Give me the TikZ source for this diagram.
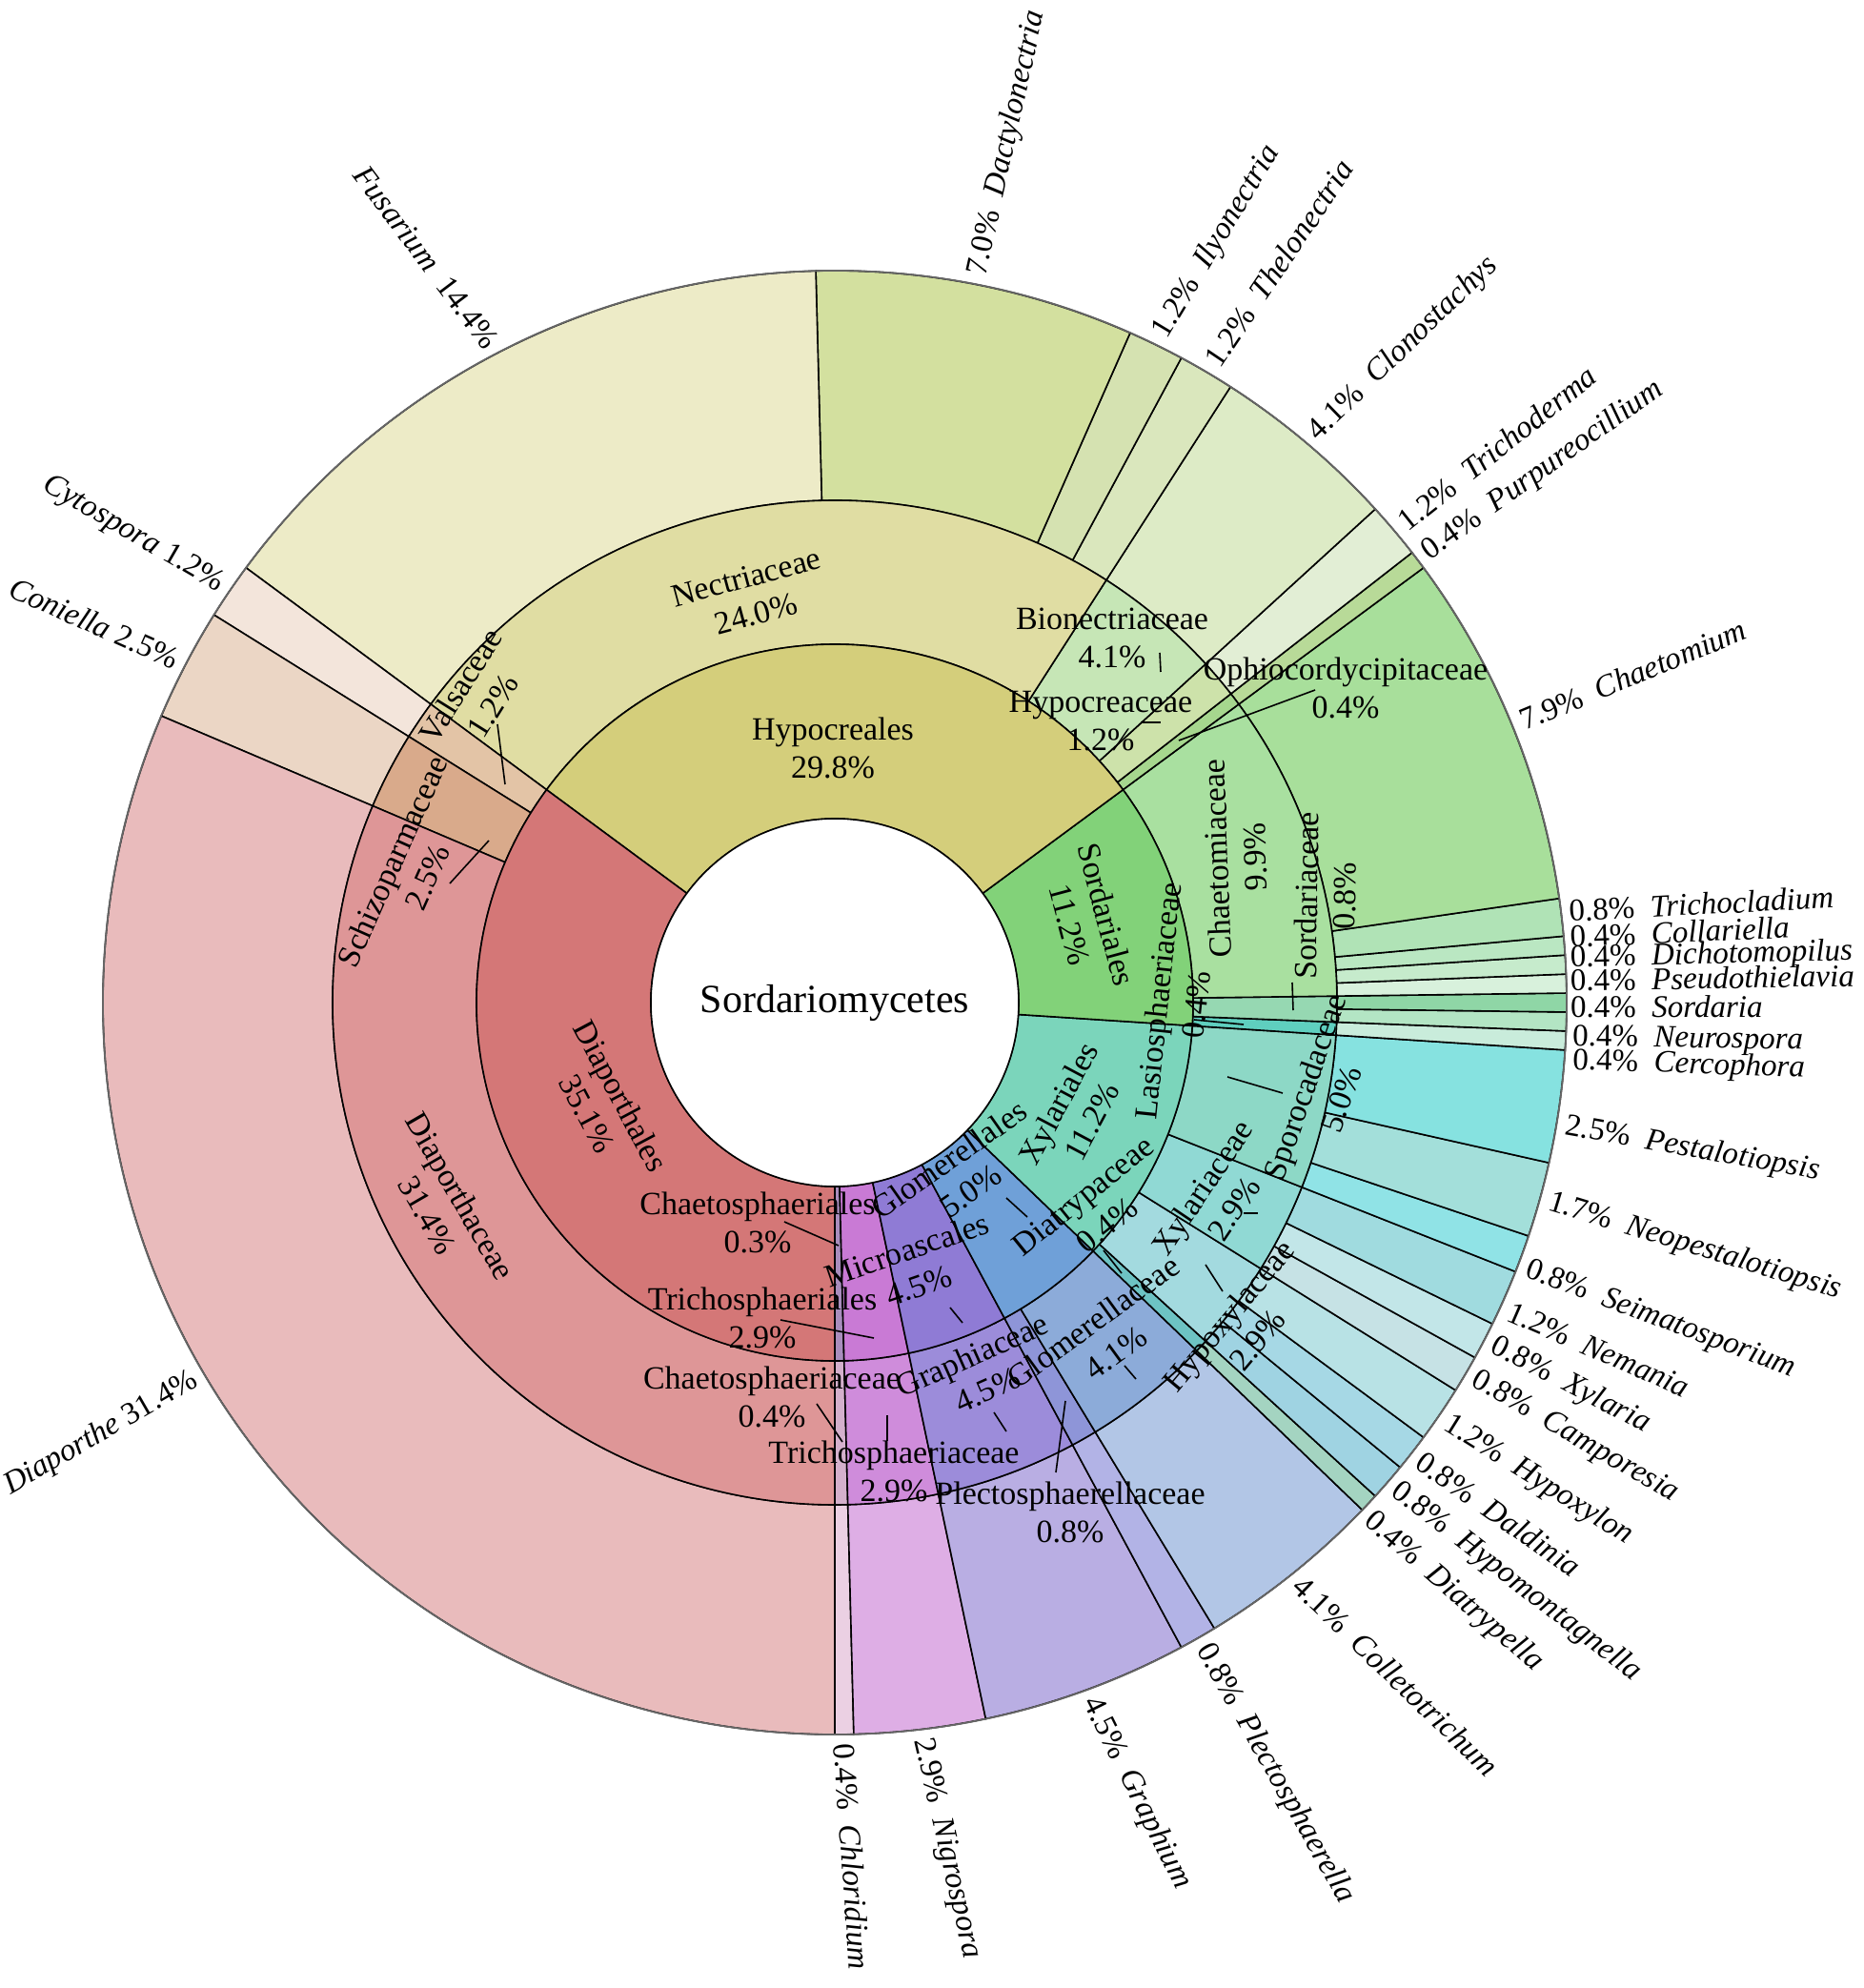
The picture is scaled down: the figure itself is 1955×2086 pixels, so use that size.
\documentclass[tikz,border=0pt]{standalone}
\usepackage{fontspec}
\setmainfont{Liberation Serif}
\newcommand{\sbseg}[5]{%
  \pgfmathsetmacro{\sbA}{-90+(#3)*1.4876033}%
  \pgfmathsetmacro{\sbB}{-90+(#4)*1.4876033}%
  \definecolor{sbtmp}{HTML}{#5}%
  \filldraw[segline, fill=sbtmp] (\sbA:#1pt) arc[start angle=\sbA, end angle=\sbB, radius=#1pt] -- (\sbB:#2pt) arc[start angle=\sbB, end angle=\sbA, radius=#2pt] -- cycle;}
% right-side genus label: id, position (count), rotation, percent, name
\newcommand{\glabR}[5]{%
  \pgfmathsetmacro{\sbM}{-90+(#2)*1.4876033}%
  \node[glab, anchor=west, rotate=#3] (#1) at (\sbM:778pt) {#4\hspace{0.5em}\textit{#5}};}
% left-side genus label: id, position (count), rotation, percent, name, gap
\newcommand{\glabL}[6]{%
  \pgfmathsetmacro{\sbM}{-90+(#2)*1.4876033}%
  \node[glab, anchor=east, rotate=#3] (#1) at (\sbM:778pt) {\textit{#5}\hspace{#6}#4};}
\newcommand{\glabP}[6]{%
  \node[glab, anchor=base west, rotate=#4] (#1) at (#2,#3) {#5\hspace{0.5em}\textit{#6}};}
\newcommand{\sblead}[5]{%
  \coordinate (#1a) at (#2,#3); \coordinate (#1b) at (#4,#5);
  \draw[leader] (#1a) -- (#1b);}
\begin{document}
\begin{tikzpicture}[x=1pt,y=1pt,
  segline/.style={draw=black, line width=1.6pt},
  glab/.style={font=\fontsize{33}{39}\selectfont, inner sep=0pt},
  ilab/.style={font=\fontsize{34}{40}\selectfont, inner sep=0pt, align=center},
  leader/.style={draw=black, line width=1.6pt}]
\fill[white] (-876,-1034) rectangle (1079,1052);
\useasboundingbox (-876,-1034) rectangle (1079,1052);
% ---------- ring 3 : genera ----------
\sbseg{527}{768}{0}{1}{EBD0E3}
\sbseg{527}{768}{1}{8}{DEAEE5}
\sbseg{527}{768}{8}{19}{B9AEE3}
\sbseg{527}{768}{19}{21}{B2B3E6}
\sbseg{527}{768}{21}{31}{B2C6E6}
\sbseg{527}{768}{31}{32}{A4D4C1}
\sbseg{527}{768}{32}{34}{9FD3E2}
\sbseg{527}{768}{34}{36}{A6D8E5}
\sbseg{527}{768}{36}{39}{B8E2E5}
\sbseg{527}{768}{39}{41}{C6E2E5}
\sbseg{527}{768}{41}{43}{C2E6E8}
\sbseg{527}{768}{43}{46}{A0DBDF}
\sbseg{527}{768}{46}{48}{90E3E6}
\sbseg{527}{768}{48}{52}{A3DFDA}
\sbseg{527}{768}{52}{58}{86E2E0}
\sbseg{527}{768}{58}{59}{C9ECDB}
\sbseg{527}{768}{59}{60}{B3E5C4}
\sbseg{527}{768}{60}{61}{8FD6A6}
\sbseg{527}{768}{61}{62}{D8F1DC}
\sbseg{527}{768}{62}{63}{C6EBCC}
\sbseg{527}{768}{63}{64}{BAE7C2}
\sbseg{527}{768}{64}{66}{B0E3B6}
\sbseg{527}{768}{66}{85}{A8DF9B}
\sbseg{527}{768}{85}{86}{B8DA98}
\sbseg{527}{768}{86}{89}{E2EED5}
\sbseg{527}{768}{89}{99}{DDEBC6}
\sbseg{527}{768}{99}{102}{DAE7BD}
\sbseg{527}{768}{102}{105}{D5E2B1}
\sbseg{527}{768}{105}{122}{D3E09F}
\sbseg{527}{768}{122}{157}{EDEBC7}
\sbseg{527}{768}{157}{160}{F3E5DB}
\sbseg{527}{768}{160}{166}{EBD6C5}
\sbseg{527}{768}{166}{242}{E9BBBC}
\draw[line width=1.8pt, draw=black!60] (0,0) circle (768pt);
% ---------- ring 2 : families ----------
\sbseg{376}{527}{0}{1}{D4B0CC}
\sbseg{376}{527}{1}{8}{CF8CDB}
\sbseg{376}{527}{8}{19}{9C8CDA}
\sbseg{376}{527}{19}{21}{8E95D8}
\sbseg{376}{527}{21}{31}{8CABD9}
\sbseg{376}{527}{31}{32}{6DC3C3}
\sbseg{376}{527}{32}{39}{A3DADF}
\sbseg{376}{527}{39}{46}{90D9D4}
\sbseg{376}{527}{46}{58}{8DD8C6}
\sbseg{376}{527}{58}{59}{5FCFBF}
\sbseg{376}{527}{59}{61}{96D8B2}
\sbseg{376}{527}{61}{85}{A9E0A0}
\sbseg{376}{527}{85}{86}{A6D78E}
\sbseg{376}{527}{86}{89}{CDE2AA}
\sbseg{376}{527}{89}{99}{C6E6B6}
\sbseg{376}{527}{99}{157}{E0DDA3}
\sbseg{376}{527}{157}{160}{E3C4A6}
\sbseg{376}{527}{160}{166}{D9AA8B}
\sbseg{376}{527}{166}{242}{DE9697}
% ---------- ring 1 : orders ----------
\sbseg{193}{376}{0}{1}{A98DBD}
\sbseg{193}{376}{1}{8}{C97AD5}
\sbseg{193}{376}{8}{19}{8F7BD5}
\sbseg{193}{376}{19}{31}{6FA0D8}
\sbseg{193}{376}{31}{58}{7BD5BB}
\sbseg{193}{376}{58}{85}{82D279}
\sbseg{193}{376}{85}{157}{D4CE7B}
\sbseg{193}{376}{157}{242}{D47777}
\filldraw[fill=white, segline] (0,0) circle (193pt);
\node[font=\fontsize{42}{48}\selectfont, inner sep=0pt] (root) at (0,0) {Sordariomycetes};
% ---------- genus labels ----------
\glabR{gChl}{0.5}{-86}{0.4\%}{Chloridium}
\glabR{gNig}{4.5}{-77}{2.9\%}{Nigrospora}
\glabR{gGra}{13.5}{-63.5}{4.5\%}{Graphium}
\glabR{gPle}{20}{-60.5}{0.8\%}{Plectosphaerella}
\glabR{gCol}{26}{-44}{4.1\%}{Colletotrichum}
\glabR{gDia}{30.9}{-41}{0.4\%}{Diatrypella}
\glabR{gHym}{32.95}{-37.5}{0.8\%}{Hypomontagnella}
\glabR{gDal}{35}{-35}{0.8\%}{Daldinia}
\glabR{gHyp}{37.3}{-32}{1.2\%}{Hypoxylon}
\glabR{gCam}{40}{-30}{0.8\%}{Camporesia}
\glabR{gXyl}{42}{-27.5}{0.8\%}{Xylaria}
\glabR{gNem}{44}{-23.5}{1.2\%}{Nemania}
\glabR{gSei}{46.3}{-20.5}{0.8\%}{Seimatosporium}
\glabR{gNeo}{50}{-17}{1.7\%}{Neopestalotiopsis}
\glabR{gPes}{54}{-10}{2.5\%}{Pestalotiopsis}
\glabP{gCer}{774}{-70}{-2}{0.4\%}{Cercophora}
\glabP{gNeu}{774}{-45}{-1}{0.4\%}{Neurospora}
\glabP{gSdr}{772}{-15}{0}{0.4\%}{Sordaria}
\glabP{gPst}{772}{12}{1}{0.4\%}{Pseudothielavia}
\glabP{gDic}{772}{37}{1.5}{0.4\%}{Dichotomopilus}
\glabP{gClr}{772}{58}{2.5}{0.4\%}{Collariella}
\glabP{gTcl}{771}{85}{3}{0.8\%}{Trichocladium}
\glabR{gChm}{75.5}{22.5}{7.9\%}{Chaetomium}
\glabR{gPur}{85.5}{35.5}{0.4\%}{Purpureocillium}
\glabR{gTrd}{87.5}{38.5}{1.2\%}{Trichoderma}
\glabR{gClo}{94}{44}{4.1\%}{Clonostachys}
\glabR{gThe}{100.5}{56}{1.2\%}{Thelonectria}
\glabR{gIly}{103.5}{59}{1.2\%}{Ilyonectria}
\glabR{gDac}{113.5}{77.5}{7.0\%}{Dactylonectria}
\glabL{gFus}{139.5}{-53}{14.4\%}{Fusarium}{0.5em}
\glabL{gCyt}{158.5}{-30}{1.2\%}{Cytospora}{0.25em}
\glabL{gCon}{163}{-24}{2.5\%}{Coniella}{0.25em}
\glabL{gDpt}{202}{30}{31.4\%}{Diaporthe}{0.25em}
% ---------- order labels ----------
\node[ilab] (lHypo) at (-2,267) {Hypocreales\\29.8\%};
\node[ilab, rotate=-62] (lDiap) at (-242,-107) {Diaporthales\\35.1\%};
\node[ilab, rotate=-75] (lSord) at (266,87) {Sordariales\\11.2\%};
\node[ilab, rotate=62] (lXyl) at (252,-115) {Xylariales\\11.2\%};
\node[ilab, rotate=35] (lGlo) at (131,-181) {Glomerellales\\5.0\%};
\node[ilab, rotate=19] (lMic) at (82,-278) {Microascales\\4.5\%};
\node[ilab] (lTri) at (-76,-331) {Trichosphaeriales\\2.9\%};
\node[ilab] (lCha) at (-81,-231) {Chaetosphaeriales\\0.3\%};
\sblead{kGlo}{180}{-205}{202}{-225}
\sblead{kMic}{121}{-320}{134}{-336}
\sblead{kTri}{-57}{-333}{41}{-352}
\sblead{kCha}{-53}{-230}{4}{-255}
% ---------- family labels ----------
\node[ilab, rotate=15] (fNec) at (-88,427) {Nectriaceae\\24.0\%};
\node[ilab, rotate=-60] (fDia) at (-410,-213) {Diaporthaceae\\31.4\%};
\node[ilab, rotate=66] (fSch) at (-446,140) {Schizoparmaceae\\2.5\%};
\node[ilab, rotate=58] (fVal) at (-376,322) {Valsaceae\\1.2\%};
\node[ilab] (fBio) at (291,383) {Bionectriaceae\\4.1\%};
\node[ilab] (fHyp) at (279,295) {Hypocreaceae\\1.2\%};
\node[ilab] (fOph) at (536,330) {Ophiocordycipitaceae\\0.4\%};
\node[ilab, rotate=92] (fChm) at (421,152) {Chaetomiaceae\\9.9\%};
\node[ilab, rotate=89] (fSdc) at (515,112) {Sordariaceae\\0.8\%};
\node[ilab, rotate=84] (fLas) at (359,0) {Lasiosphaeriaceae\\0.4\%};
\node[ilab, rotate=71] (fSpo) at (512,-95) {Sporocadaceae\\5.0\%};
\node[ilab, rotate=56] (fXyc) at (402,-205) {Xylariaceae\\2.9\%};
\node[ilab, rotate=39] (fDtc) at (273,-218) {Diatrypaceae\\0.4\%};
\node[ilab, rotate=50] (fHxc) at (428,-341) {Hypoxylaceae\\2.9\%};
\node[ilab, rotate=36] (fGlc) at (283,-351) {Glomerellaceae\\4.1\%};
\node[ilab, rotate=24] (fGrc) at (152,-388) {Graphiaceae\\4.5\%};
\node[ilab] (fPlc) at (247,-535) {Plectosphaerellaceae\\0.8\%};
\node[ilab] (fTrc) at (62,-492) {Trichosphaeriaceae\\2.9\%};
\node[ilab] (fChc) at (-66,-414) {Chaetosphaeriaceae\\0.4\%};
\sblead{kSch}{-404}{125}{-363}{170}
\sblead{kVal}{-354}{292}{-346}{229}
\sblead{kBio}{341}{367}{342}{347}
\sblead{kHyp}{321}{294}{342}{294}
\sblead{kOph}{504}{328}{361}{275}
\sblead{kSdc}{480}{21}{481}{-8}
\sblead{kLas}{377}{-18}{429}{-23}
\sblead{kSpo}{412}{-78}{470}{-95}
\sblead{kXyc}{429}{-221}{444}{-221}
\sblead{kDtc}{282}{-260}{301}{-284}
\sblead{kHxc}{389}{-275}{407}{-303}
\sblead{kGlc}{304}{-381}{316}{-395}
\sblead{kGrc}{167}{-430}{180}{-450}
\sblead{kPlc}{242}{-418}{232}{-493}
\sblead{kTrc}{55}{-433}{55}{-460}
\sblead{kChc}{-19}{-421}{8}{-461}
\end{tikzpicture}
\end{document}
